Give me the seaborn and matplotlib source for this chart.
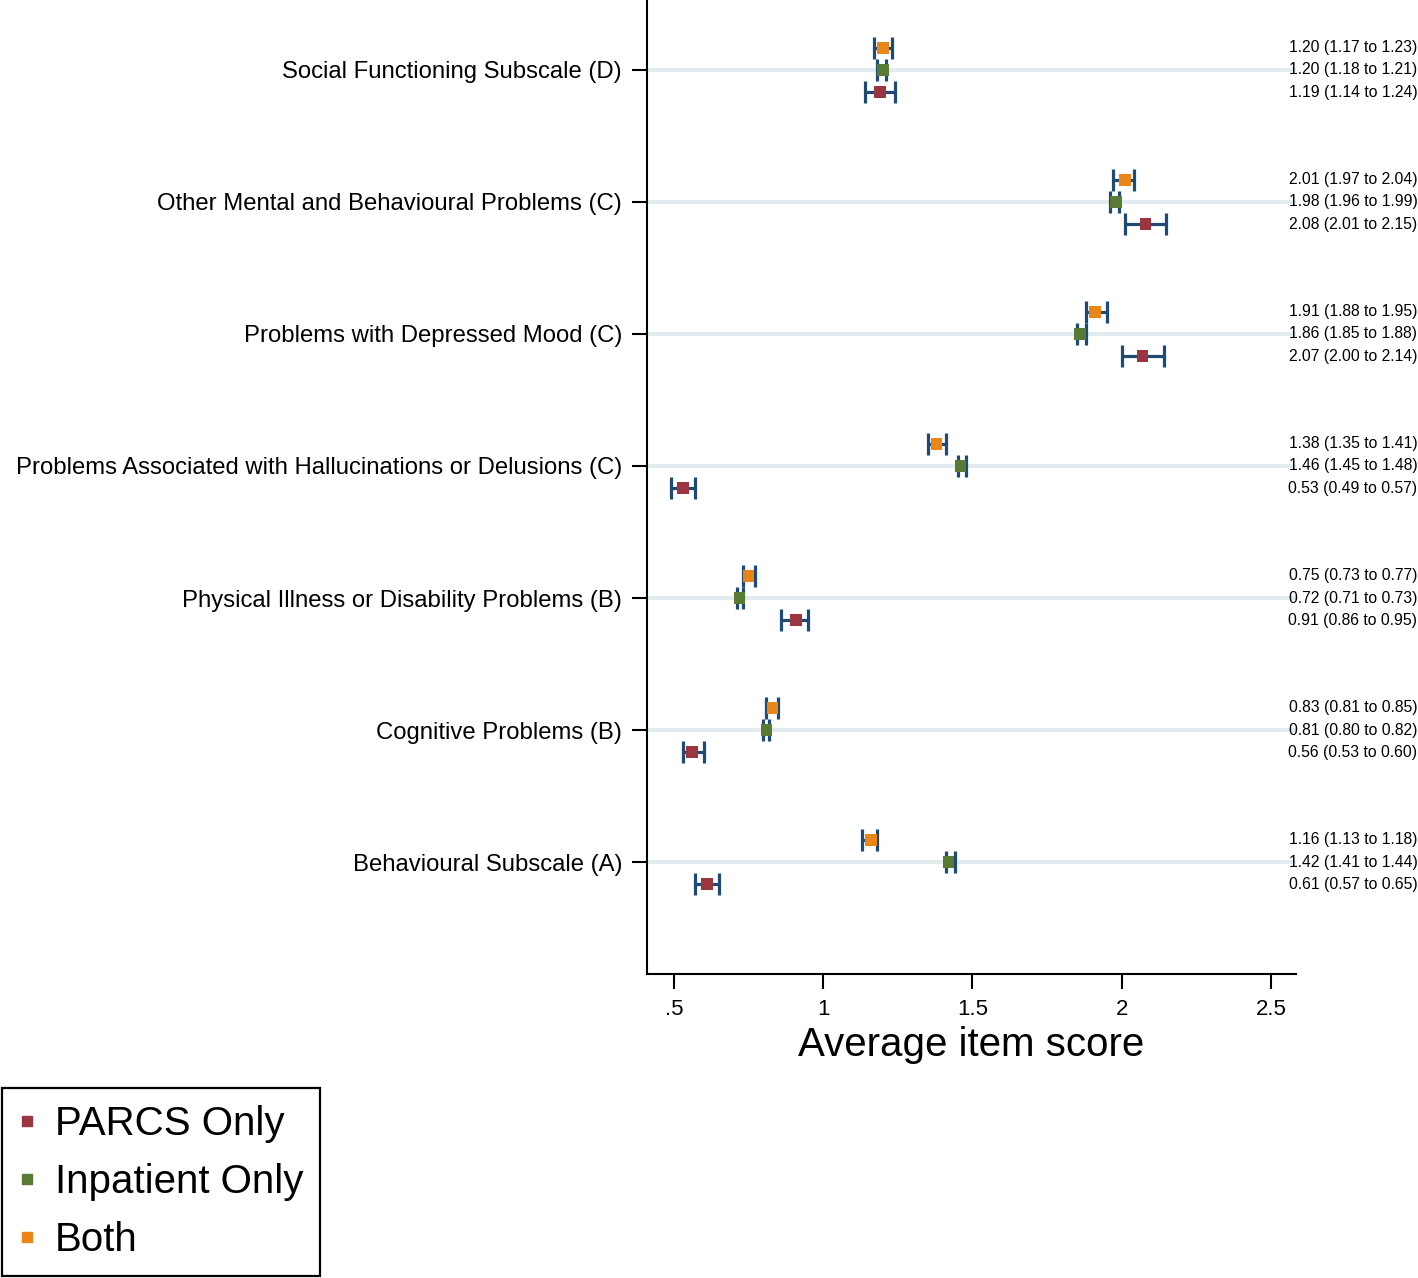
import numpy as np
import pandas as pd
import matplotlib
matplotlib.use("Agg")
import matplotlib.pyplot as plt
import matplotlib.transforms as mtransforms
from matplotlib.lines import Line2D
import seaborn as sns

# data, bottom category first
categories = [
    "Behavioural Subscale (A)",
    "Cognitive Problems (B)",
    "Physical Illness or Disability Problems (B)",
    "Problems Associated with Hallucinations or Delusions (C)",
    "Problems with Depressed Mood (C)",
    "Other Mental and Behavioural Problems (C)",
    "Social Functioning Subscale (D)",
]
groups = ["PARCS Only", "Inpatient Only", "Both"]

parcs_mean = [0.61, 0.56, 0.91, 0.53, 2.07, 2.08, 1.19]
parcs_lo = [0.57, 0.53, 0.86, 0.49, 2.00, 2.01, 1.14]
parcs_hi = [0.65, 0.60, 0.95, 0.57, 2.14, 2.15, 1.24]

inpat_mean = [1.42, 0.81, 0.72, 1.46, 1.86, 1.98, 1.20]
inpat_lo = [1.41, 0.80, 0.71, 1.45, 1.85, 1.96, 1.18]
inpat_hi = [1.44, 0.82, 0.73, 1.48, 1.88, 1.99, 1.21]

both_mean = [1.16, 0.83, 0.75, 1.38, 1.91, 2.01, 1.20]
both_lo = [1.13, 0.81, 0.73, 1.35, 1.88, 1.97, 1.17]
both_hi = [1.18, 0.85, 0.77, 1.41, 1.95, 2.04, 1.23]

xticks = [0.5, 1, 1.5, 2, 2.5]
xticklabels = [".5", "1", "1.5", "2", "2.5"]

colors = {"PARCS Only": "#9b3540", "Inpatient Only": "#587a34", "Both": "#ea8517"}
offsets = {"PARCS Only": -0.167, "Inpatient Only": 0.0, "Both": 0.167}
bar_color = "#1e4a74"

rows = []
for g, m, lo, hi in [("PARCS Only", parcs_mean, parcs_lo, parcs_hi),
                     ("Inpatient Only", inpat_mean, inpat_lo, inpat_hi),
                     ("Both", both_mean, both_lo, both_hi)]:
    for i, c in enumerate(categories):
        rows.append({"category": c, "group": g, "mean": m[i], "lo": lo[i], "hi": hi[i],
                     "y": i + 1 + offsets[g]})
df = pd.DataFrame(rows)

sns.set_style("white")
plt.rcParams['font.family'] = ['Liberation Sans', 'DejaVu Sans']
plt.rcParams['text.color'] = 'black'
plt.rcParams['axes.labelcolor'] = 'black'

fig = plt.figure(figsize=(14.18, 12.78), dpi=100)
ax = fig.add_axes([0.4563, 0.2379, 0.4577, 0.7621])

# grid lines at categories
for i in range(len(categories)):
    ax.axhline(i + 1, color="#e2ebee", lw=3, zorder=0)

ax.errorbar(df["mean"], df["y"], xerr=[df["mean"] - df["lo"], df["hi"] - df["mean"]],
            fmt="none", ecolor=bar_color, elinewidth=2.3, capsize=8, capthick=2.3, zorder=2)
sns.scatterplot(data=df, x="mean", y="y", hue="group", hue_order=groups, palette=colors,
                marker="s", s=70, edgecolor="none", legend=False, ax=ax, zorder=3)

ax.set_xlim(0.41, 2.584)
ax.set_ylim(0.152, 7.53)
ax.set_xticks(xticks)
ax.set_xticklabels(xticklabels)
ax.set_yticks(range(1, len(categories) + 1))
ax.set_yticklabels(categories)
ax.tick_params(axis="both", direction="out", length=11, width=1.5, labelsize=16,
               colors="black", pad=7, left=True, bottom=True)
ax.tick_params(axis="y", labelsize=17.2)
ax.set_xlabel("Average item score", fontsize=29, labelpad=4)
ax.set_ylabel("")
for s in ["top", "right"]:
    ax.spines[s].set_visible(False)
for s in ["left", "bottom"]:
    ax.spines[s].set_color("black")
    ax.spines[s].set_linewidth(1.5)

# estimate labels at the right edge
trans = mtransforms.blended_transform_factory(fig.transFigure, ax.transData)
for _, r in df.iterrows():
    ax.text(0.9995, r["y"], f"{r['mean']:.2f} ({r['lo']:.2f} to {r['hi']:.2f})",
            transform=trans, ha="right", va="center", fontsize=11.3, clip_on=False)

handles = [Line2D([], [], marker="s", ls="none", color=colors[g], markersize=7) for g in groups]
leg = fig.legend(handles, groups, loc="lower left", bbox_to_anchor=(0.0, 0.0),
                 bbox_transform=fig.transFigure, fontsize=29, frameon=True, fancybox=False,
                 framealpha=1, borderaxespad=0.05, handlelength=0.4, handletextpad=0.5,
                 labelspacing=0.5, borderpad=0.42)
leg.get_frame().set_edgecolor("black")
leg.get_frame().set_linewidth(1.6)
for t in leg.get_texts():
    t.set_color("black")

fig.savefig("out.png", dpi=100)
